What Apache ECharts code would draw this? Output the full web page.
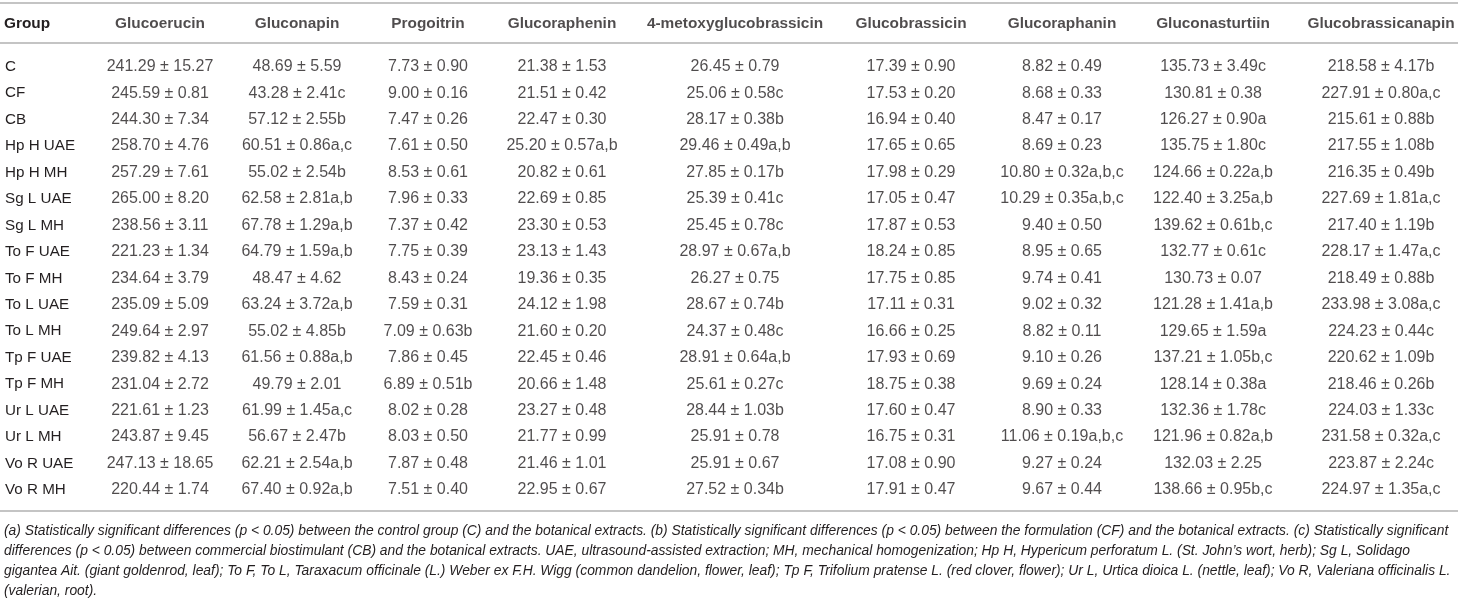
<!DOCTYPE html>
<html>
<head>
    <meta charset="utf-8">
    <title>Glucosinolates table</title>
    <script type="text/javascript" src="https://cdn.jsdelivr.net/npm/echarts@6/dist/echarts.min.js"></script>
    <style>
        html, body { margin: 0; padding: 0; background: #fff; }
    </style>
</head>
<body>
<div id="main" style="width: 1458px;height:598px;"></div>
<script type="text/javascript">

    // row and column labels
    var groups = ['C', 'CF', 'CB', 'Hp H UAE', 'Hp H MH', 'Sg L UAE', 'Sg L MH', 'To F UAE', 'To F MH',
        'To L UAE', 'To L MH', 'Tp F UAE', 'Tp F MH', 'Ur L UAE', 'Ur L MH', 'Vo R UAE', 'Vo R MH'];
    var compounds = ['Glucoerucin', 'Gluconapin', 'Progoitrin', 'Glucoraphenin', '4-metoxyglucobrassicin',
        'Glucobrassicin', 'Glucoraphanin', 'Gluconasturtiin', 'Glucobrassicanapin'];

    // [mean, sd, significance letters] per group
    var glucoerucin = [[241.29, 15.27, ''], [245.59, 0.81, ''], [244.30, 7.34, ''], [258.70, 4.76, ''],
        [257.29, 7.61, ''], [265.00, 8.20, ''], [238.56, 3.11, ''], [221.23, 1.34, ''], [234.64, 3.79, ''],
        [235.09, 5.09, ''], [249.64, 2.97, ''], [239.82, 4.13, ''], [231.04, 2.72, ''], [221.61, 1.23, ''],
        [243.87, 9.45, ''], [247.13, 18.65, ''], [220.44, 1.74, '']];
    var gluconapin = [[48.69, 5.59, ''], [43.28, 2.41, 'c'], [57.12, 2.55, 'b'], [60.51, 0.86, 'a,c'],
        [55.02, 2.54, 'b'], [62.58, 2.81, 'a,b'], [67.78, 1.29, 'a,b'], [64.79, 1.59, 'a,b'], [48.47, 4.62, ''],
        [63.24, 3.72, 'a,b'], [55.02, 4.85, 'b'], [61.56, 0.88, 'a,b'], [49.79, 2.01, ''], [61.99, 1.45, 'a,c'],
        [56.67, 2.47, 'b'], [62.21, 2.54, 'a,b'], [67.40, 0.92, 'a,b']];
    var progoitrin = [[7.73, 0.90, ''], [9.00, 0.16, ''], [7.47, 0.26, ''], [7.61, 0.50, ''],
        [8.53, 0.61, ''], [7.96, 0.33, ''], [7.37, 0.42, ''], [7.75, 0.39, ''], [8.43, 0.24, ''],
        [7.59, 0.31, ''], [7.09, 0.63, 'b'], [7.86, 0.45, ''], [6.89, 0.51, 'b'], [8.02, 0.28, ''],
        [8.03, 0.50, ''], [7.87, 0.48, ''], [7.51, 0.40, '']];
    var glucoraphenin = [[21.38, 1.53, ''], [21.51, 0.42, ''], [22.47, 0.30, ''], [25.20, 0.57, 'a,b'],
        [20.82, 0.61, ''], [22.69, 0.85, ''], [23.30, 0.53, ''], [23.13, 1.43, ''], [19.36, 0.35, ''],
        [24.12, 1.98, ''], [21.60, 0.20, ''], [22.45, 0.46, ''], [20.66, 1.48, ''], [23.27, 0.48, ''],
        [21.77, 0.99, ''], [21.46, 1.01, ''], [22.95, 0.67, '']];
    var metoxyglucobrassicin = [[26.45, 0.79, ''], [25.06, 0.58, 'c'], [28.17, 0.38, 'b'], [29.46, 0.49, 'a,b'],
        [27.85, 0.17, 'b'], [25.39, 0.41, 'c'], [25.45, 0.78, 'c'], [28.97, 0.67, 'a,b'], [26.27, 0.75, ''],
        [28.67, 0.74, 'b'], [24.37, 0.48, 'c'], [28.91, 0.64, 'a,b'], [25.61, 0.27, 'c'], [28.44, 1.03, 'b'],
        [25.91, 0.78, ''], [25.91, 0.67, ''], [27.52, 0.34, 'b']];
    var glucobrassicin = [[17.39, 0.90, ''], [17.53, 0.20, ''], [16.94, 0.40, ''], [17.65, 0.65, ''],
        [17.98, 0.29, ''], [17.05, 0.47, ''], [17.87, 0.53, ''], [18.24, 0.85, ''], [17.75, 0.85, ''],
        [17.11, 0.31, ''], [16.66, 0.25, ''], [17.93, 0.69, ''], [18.75, 0.38, ''], [17.60, 0.47, ''],
        [16.75, 0.31, ''], [17.08, 0.90, ''], [17.91, 0.47, '']];
    var glucoraphanin = [[8.82, 0.49, ''], [8.68, 0.33, ''], [8.47, 0.17, ''], [8.69, 0.23, ''],
        [10.80, 0.32, 'a,b,c'], [10.29, 0.35, 'a,b,c'], [9.40, 0.50, ''], [8.95, 0.65, ''], [9.74, 0.41, ''],
        [9.02, 0.32, ''], [8.82, 0.11, ''], [9.10, 0.26, ''], [9.69, 0.24, ''], [8.90, 0.33, ''],
        [11.06, 0.19, 'a,b,c'], [9.27, 0.24, ''], [9.67, 0.44, '']];
    var gluconasturtiin = [[135.73, 3.49, 'c'], [130.81, 0.38, ''], [126.27, 0.90, 'a'], [135.75, 1.80, 'c'],
        [124.66, 0.22, 'a,b'], [122.40, 3.25, 'a,b'], [139.62, 0.61, 'b,c'], [132.77, 0.61, 'c'], [130.73, 0.07, ''],
        [121.28, 1.41, 'a,b'], [129.65, 1.59, 'a'], [137.21, 1.05, 'b,c'], [128.14, 0.38, 'a'], [132.36, 1.78, 'c'],
        [121.96, 0.82, 'a,b'], [132.03, 2.25, ''], [138.66, 0.95, 'b,c']];
    var glucobrassicanapin = [[218.58, 4.17, 'b'], [227.91, 0.80, 'a,c'], [215.61, 0.88, 'b'], [217.55, 1.08, 'b'],
        [216.35, 0.49, 'b'], [227.69, 1.81, 'a,c'], [217.40, 1.19, 'b'], [228.17, 1.47, 'a,c'], [218.49, 0.88, 'b'],
        [233.98, 3.08, 'a,c'], [224.23, 0.44, 'c'], [220.62, 1.09, 'b'], [218.46, 0.26, 'b'], [224.03, 1.33, 'c'],
        [231.58, 0.32, 'a,c'], [223.87, 2.24, 'c'], [224.97, 1.35, 'a,c']];

    var columns = [glucoerucin, gluconapin, progoitrin, glucoraphenin, metoxyglucobrassicin,
        glucobrassicin, glucoraphanin, gluconasturtiin, glucobrassicanapin];

    var footnote = [
        '(a) Statistically significant differences (p < 0.05) between the control group (C) and the botanical extracts. (b) Statistically significant differences (p < 0.05) between the formulation (CF) and the botanical extracts. (c) Statistically significant',
        'differences (p < 0.05) between commercial biostimulant (CB) and the botanical extracts. UAE, ultrasound-assisted extraction; MH, mechanical homogenization; Hp H, Hypericum perforatum L. (St. John\u2019s wort, herb); Sg L, Solidago',
        'gigantea Ait. (giant goldenrod, leaf); To F, To L, Taraxacum officinale (L.) Weber ex F.H. Wigg (common dandelion, flower, leaf); Tp F, Trifolium pratense L. (red clover, flower); Ur L, Urtica dioica L. (nettle, leaf); Vo R, Valeriana officinalis L.',
        '(valerian, root).'
    ];

    // layout: column centres in pixels
    var colX = [160, 297, 428, 562, 735, 911, 1062, 1213, 1381];

    var FONT = '"Liberation Sans", Arial, Helvetica, sans-serif';
    var TEXT = '#231f20';
    var RULE = '#c4c4c4';

    var myChart = echarts.init(document.getElementById('main'));

    var series = [];
    // header row
    series.push({
        type: 'scatter',
        xAxisIndex: 1,
        yAxisIndex: 1,
        symbolSize: 1,
        itemStyle: { color: 'rgba(0,0,0,0)' },
        silent: true,
        data: compounds.map(function (c, i) { return [colX[i], 0, c]; }),
        label: {
            show: true,
            position: 'inside',
            formatter: function (p) { return p.data[2]; },
            color: TEXT,
            fontFamily: FONT,
            fontSize: 15.4,
            fontWeight: 'bold'
        }
    });
    // body cells
    columns.forEach(function (col, i) {
        series.push({
            type: 'scatter',
            xAxisIndex: 0,
            yAxisIndex: 0,
            symbolSize: 1,
            itemStyle: { color: 'rgba(0,0,0,0)' },
            silent: true,
            data: col.map(function (d, r) { return [colX[i], r, d[0], d[1], d[2]]; }),
            label: {
                show: true,
                position: 'inside',
                formatter: function (p) {
                    return p.data[2].toFixed(2) + ' \u00b1 ' + p.data[3].toFixed(2) + p.data[4];
                },
                color: TEXT,
                fontFamily: FONT,
                fontSize: 16
            }
        });
    });

    var option = {
        animation: false,
        grid: [
            { left: 0, right: 0, top: 53.5, height: 449.7 },
            { left: 0, right: 0, top: 4, height: 40 }
        ],
        xAxis: [
            { type: 'value', gridIndex: 0, min: 0, max: 1458, show: false },
            { type: 'value', gridIndex: 1, min: 0, max: 1458, show: false }
        ],
        yAxis: [
            {
                type: 'category', gridIndex: 0, inverse: true, data: groups,
                axisLine: { show: false }, axisTick: { show: false }, splitLine: { show: false },
                axisLabel: { inside: true, margin: 5, align: 'left', color: TEXT, fontFamily: FONT, fontSize: 15.2 }
            },
            {
                type: 'category', gridIndex: 1, data: ['Group'],
                axisLine: { show: false }, axisTick: { show: false }, splitLine: { show: false },
                axisLabel: { inside: true, margin: 4, align: 'left', color: TEXT, fontFamily: FONT, fontSize: 15.4, fontWeight: 'bold' }
            }
        ],
        graphic: [
            { type: 'line', shape: { x1: 0, y1: 3, x2: 1458, y2: 3 }, style: { stroke: RULE, lineWidth: 2 } },
            { type: 'line', shape: { x1: 0, y1: 43, x2: 1458, y2: 43 }, style: { stroke: RULE, lineWidth: 2 } },
            { type: 'line', shape: { x1: 0, y1: 511, x2: 1458, y2: 511 }, style: { stroke: RULE, lineWidth: 2 } },
            {
                type: 'text', left: 4, top: 521,
                style: {
                    text: footnote.join('\n'),
                    fill: TEXT,
                    font: 'italic 13.85px ' + FONT,
                    lineHeight: 20
                }
            }
        ],
        series: series
    };

    myChart.setOption(option);

</script>
</body>
</html>
